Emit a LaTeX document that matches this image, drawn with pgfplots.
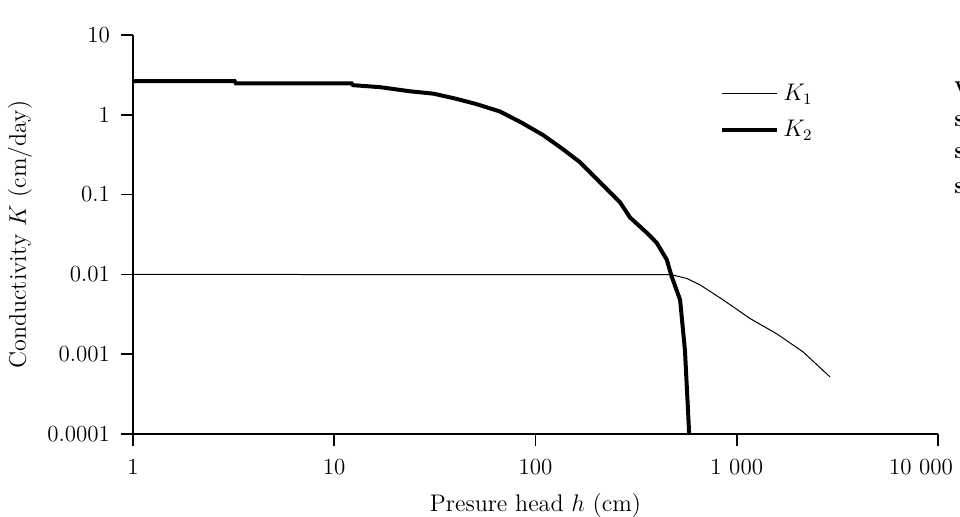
\documentclass[border=0pt]{standalone}
\usepackage{pgfplots}
\pgfplotsset{compat=1.18}
\begin{document}
\begin{tikzpicture}
\useasboundingbox (0,0) rectangle (480pt,258.5pt);
\begin{axis}[
  at={(66.5pt,41.5pt)}, anchor=south west,
  scale only axis, width=402.5pt, height=199.5pt,
  xmode=log, ymode=log,
  xmin=1, xmax=10000, ymin=0.0001, ymax=10,
  axis lines*=left,
  axis line style={-, line width=0.75pt},
  xtick={1,10,100,1000,10000},
  xticklabels={1,10,100,1~000,{\makebox[0pt][r]{10~000\hspace*{-7.5pt}}}},
  ytick={0.0001,0.001,0.01,0.1,1,10},
  yticklabels={0.0001,0.001,0.01,0.1,1,10},
  xminorticks=false, yminorticks=false,
  tick align=outside, major tick length=6pt,
  tick style={black, line width=0.75pt},
  xticklabel style={font=\fontsize{11.5}{13}\selectfont, yshift=-3pt},
  yticklabel style={font=\fontsize{11.5}{13}\selectfont, xshift=-2pt},
  xlabel={Presure head $h$ (cm)},
  ylabel={Conductivity $K$ (cm/day)},
  label style={font=\fontsize{12}{14}\selectfont},
  xlabel style={at={(axis description cs:0.5,-0.18)}, anchor=center},
  ylabel style={at={(axis description cs:-0.1404,0.5)}, anchor=center, rotate=0},
  legend style={draw=none, fill=none, at={(axis description cs:0.729,0.888)}, anchor=north west,
    font=\fontsize{12}{14}\selectfont, row sep=4.5pt, inner sep=0pt},
  legend cell align=left,
  legend image code/.code={\draw[#1] (0pt,0pt) -- (27.5pt,0pt);},
]
\addplot[black, line width=0.5pt] coordinates {
(1,0.01)(475,0.0099)(564,0.0089)(657,0.0074)(855,0.0048)(1164,0.0028)(1581,0.0018)(2134,0.00107)(2906,0.00052)};
\addlegendentry{$K_1$}
\addplot[black, line width=2pt] coordinates {
(1,2.64)(3.2,2.64)(3.25,2.47)(12.2,2.47)(12.4,2.35)(16.9,2.22)(23.8,1.97)(31.1,1.84)(39,1.62)(50,1.38)(66.6,1.10)(85,0.80)(109,0.558)(135,0.38)(166,0.256)(209,0.143)(263,0.080)(295,0.0516)(357,0.0333)(400,0.0249)(449,0.0153)(475,0.0094)(523,0.0048)(553,0.00111)(574,0.000175)(580,0.0001)};
\addlegendentry{$K_2$}
\end{axis}
\begin{scope}[font=\fontsize{12}{14}\selectfont\bfseries]
\node[anchor=west, inner sep=0pt] at (477pt,215pt) {w};
\node[anchor=west, inner sep=0pt] at (477pt,198pt) {s};
\node[anchor=west, inner sep=0pt] at (477pt,182pt) {s};
\node[anchor=west, inner sep=0pt] at (477pt,164.5pt) {s};
\end{scope}
\end{tikzpicture}
\end{document}
